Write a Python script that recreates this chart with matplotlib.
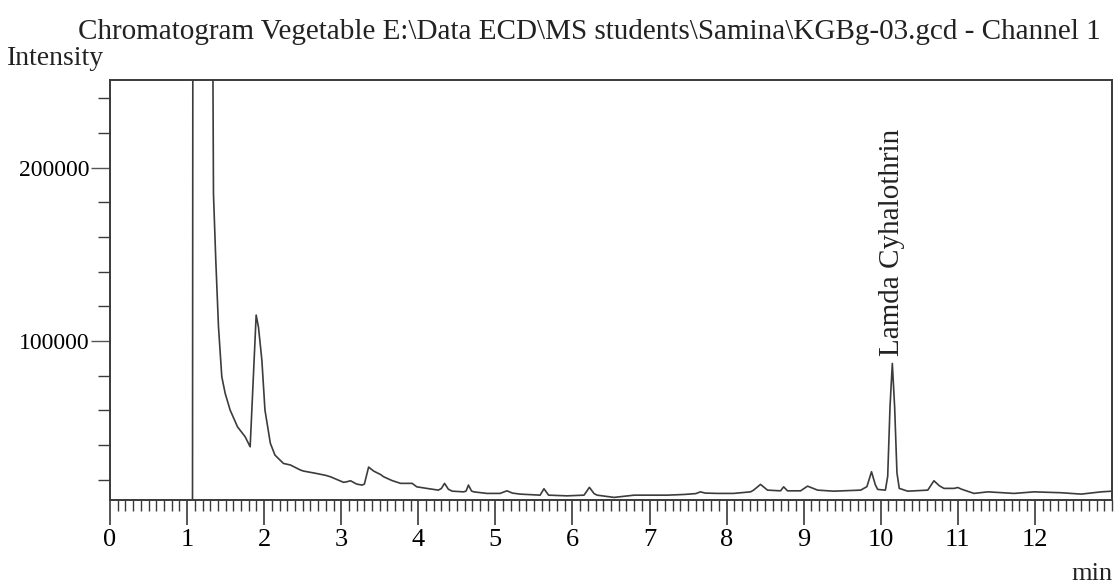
import matplotlib
matplotlib.use("Agg")
import matplotlib.pyplot as plt
from matplotlib.ticker import MultipleLocator, NullFormatter

plt.rcParams['font.family'] = ['Liberation Serif', 'DejaVu Serif']

# retention time (min) and detector intensity
time_min = [1.07, 1.08, 1.30, 1.342, 1.372, 1.407, 1.45, 1.494, 1.558, 1.654, 1.753,
            1.818, 1.85, 1.896, 1.926, 1.97, 2.01, 2.08, 2.14, 2.25, 2.34, 2.47,
            2.51, 2.68, 2.80, 2.86, 2.95, 3.03, 3.07, 3.12, 3.20, 3.27, 3.30, 3.355,
            3.42, 3.51, 3.55, 3.66, 3.77, 3.85, 3.92, 3.98, 4.11, 4.26, 4.30, 4.34,
            4.39, 4.44, 4.59, 4.62, 4.65, 4.69, 4.72, 4.89, 5.06, 5.15, 5.22, 5.32,
            5.58, 5.63, 5.69, 5.93, 6.15, 6.22, 6.28, 6.32, 6.54, 6.62, 6.80, 7.23,
            7.45, 7.60, 7.66, 7.72, 7.88, 8.09, 8.31, 8.35, 8.44, 8.53, 8.70, 8.74,
            8.79, 8.96, 9.05, 9.18, 9.39, 9.74, 9.82, 9.88, 9.93, 9.96, 10.06, 10.09,
            10.12, 10.15, 10.18, 10.21, 10.24, 10.35, 10.61, 10.69, 10.76, 10.82,
            10.95, 11.0, 11.05, 11.21, 11.39, 11.73, 11.99, 12.34, 12.6, 12.86, 13.0]
intensity = [5000, 600000, 600000, 185000, 146700, 108300, 79400, 69800, 60200, 50500, 44800,
             39000, 70000, 115000, 108000, 89000, 60200, 41000, 34200, 29400, 28500, 25600,
             25000, 23600, 22500, 21700, 20000, 18500, 18800, 19400, 17500, 16900, 17500, 27300,
             25000, 23000, 21700, 19500, 17900, 17900, 17900, 15900, 15000, 14000, 15000, 17900,
             14500, 13400, 13000, 13500, 16900, 13500, 13000, 12100, 12100, 13600, 12300, 11700,
             11100, 14800, 11100, 10700, 11100, 15600, 12000, 11100, 9800, 10200, 11100, 11100,
             11500, 12000, 13000, 12300, 12100, 12100, 13000, 14000, 17300, 14000, 13600, 15900,
             13600, 13600, 16300, 14000, 13400, 14000, 16000, 24600, 17000, 14400, 14000, 22000,
             62000, 87100, 62000, 24000, 15000, 13400, 14000, 19400, 16500, 15000,
             15000, 15500, 14500, 12100, 13000, 12100, 13000, 12500, 11700, 13000, 13400]

peak_time = 10.15
peak_height = 87100
peak_name = "Lamda Cyhalothrin"
x_ticks = list(range(0, 13))

fig = plt.figure(figsize=(11.16, 5.87), dpi=100)
ax = fig.add_axes([0.0986, 0.1482, 0.8978, 0.7155])

ax.plot(time_min, intensity, color='#3c3c3c', lw=1.2)

ax.set_xlim(0, 13.0)
ax.set_ylim(8300, 250600)

ax.set_xticks(x_ticks)
ax.xaxis.set_minor_locator(MultipleLocator(0.1))
ax.yaxis.set_major_locator(MultipleLocator(100000))
ax.yaxis.set_minor_locator(MultipleLocator(20000))
ax.yaxis.set_minor_formatter(NullFormatter())

edge = '#3a3a3a'
for s in ax.spines.values():
    s.set_color(edge)
    s.set_linewidth(1.4)

ax.tick_params(axis='x', which='major', direction='out', length=18, width=1.2,
               color=edge, labelsize=19, pad=3)
ax.tick_params(axis='x', which='minor', direction='out', length=8, width=1.0, color=edge)
ax.tick_params(axis='y', which='major', direction='out', length=14, width=1.0,
               color='#555555', labelsize=17, pad=1)
ax.tick_params(axis='y', which='minor', direction='out', length=9, width=1.0, color=edge)

# half-minute ticks are a bit longer
for t in ax.xaxis.get_minor_ticks():
    loc = t.get_loc()
    if abs(loc * 2 - round(loc * 2)) < 1e-6 and abs(loc - round(loc)) > 1e-6:
        t.tick1line.set_markersize(12)

ax.text(peak_time, peak_height + 4000, peak_name, rotation=90, ha='center', va='bottom',
        fontsize=21, color='#222222')

fig.text(0.528, 0.968, r"Chromatogram Vegetable E:\Data ECD\MS students\Samina\KGBg-03.gcd - Channel 1",
         ha='center', va='top', fontsize=21, color='#222222')
fig.text(0.006, 0.889, "Intensity", ha='left', va='baseline', fontsize=20, color='#222222')
fig.text(0.997, 0.004, "min", ha='right', va='bottom', fontsize=19, color='#222222')

fig.savefig("out.png", dpi=100)
